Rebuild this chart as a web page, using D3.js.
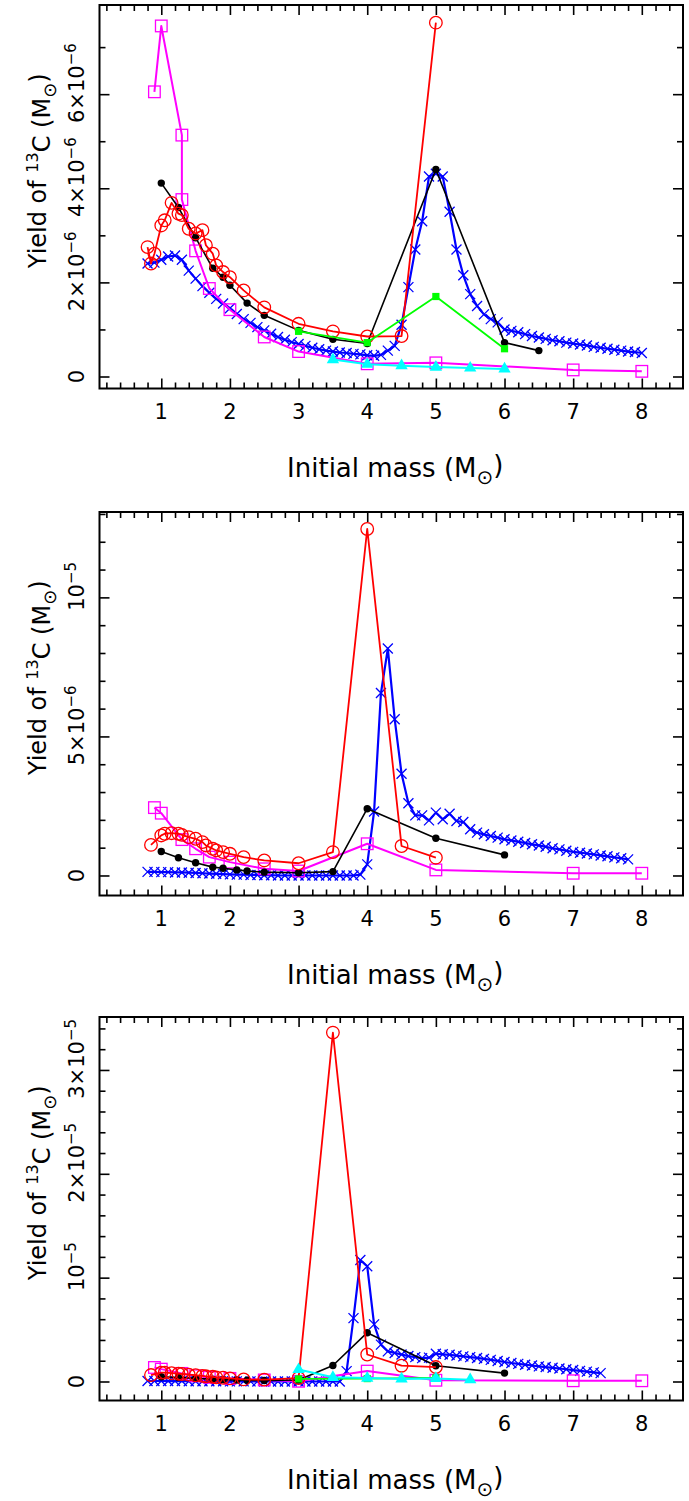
<!DOCTYPE html>
<html>
<head>
<meta charset="utf-8">
<script src="https://cdn.jsdelivr.net/npm/d3@7"></script>
<style>
body { margin: 0; background: #fff; }
svg text { font-family: "DejaVu Sans", sans-serif; fill: #000; }
</style>
</head>
<body>
<div id="chart"></div>
<script>
// yields are in units of 1e-6 Msun
const xTicks = [1, 2, 3, 4, 5, 6, 7, 8]

// masses of the dense (blue) grid, shared by the three panels
const blueMass = [0.8, 0.9, 1.0, 1.1, 1.2, 1.3, 1.4, 1.5, 1.6, 1.7, 1.8, 1.9, 2.0, 2.1, 2.2, 2.3, 2.4, 2.5, 2.6, 2.7,
	2.8, 2.9, 3.0, 3.1, 3.2, 3.3, 3.4, 3.5, 3.6, 3.7, 3.8, 3.9, 4.0, 4.1, 4.2, 4.3, 4.4, 4.5, 4.6, 4.7,
	4.8, 4.9, 5.0, 5.1, 5.2, 5.3, 5.4, 5.5, 5.6, 5.7, 5.8, 5.9, 6.0, 6.1, 6.2, 6.3, 6.4, 6.5, 6.6, 6.7,
	6.8, 6.9, 7.0, 7.1, 7.2, 7.3, 7.4, 7.5, 7.6, 7.7, 7.8, 7.9, 8.0]

// top panel
const topYTicks = [0, 2, 4, 6]
const topYLabels = [['0', ''], ['2×10', '−6'], ['4×10', '−6'], ['6×10', '−6']]
const topBlueYield = [2.40, 2.42, 2.48, 2.55, 2.57, 2.48, 2.25, 2.08, 1.92, 1.78, 1.65, 1.55, 1.45, 1.33, 1.22, 1.14, 1.05, 0.98, 0.91, 0.84,
	0.78, 0.73, 0.69, 0.65, 0.61, 0.58, 0.55, 0.53, 0.51, 0.50, 0.48, 0.47, 0.45, 0.44, 0.46, 0.55, 0.65, 1.10, 1.90, 2.70,
	3.30, 4.25, 4.31, 4.25, 3.50, 2.70, 2.15, 1.75, 1.50, 1.32, 1.22, 1.15, 1.00, 0.97, 0.94, 0.90, 0.86, 0.83, 0.80, 0.77,
	0.75, 0.72, 0.70, 0.68, 0.66, 0.63, 0.61, 0.59, 0.57, 0.55, 0.53, 0.52, 0.50]
const topBlackMass = [1.0, 1.25, 1.5, 1.75, 1.9, 2.0, 2.25, 2.5, 3.0, 3.5, 4.0, 5.0, 6.0, 6.5]
const topBlackYield = [4.11, 3.59, 2.95, 2.30, 2.11, 1.94, 1.56, 1.30, 0.98, 0.79, 0.70, 4.40, 0.72, 0.55]
const topRedMass = [0.8, 0.85, 0.9, 1.0, 1.05, 1.15, 1.25, 1.3, 1.4, 1.5, 1.6, 1.65, 1.75, 1.8, 1.9, 2.0, 2.2, 2.5, 3.0, 3.5, 4.0, 4.5, 5.0]
const topRedYield = [2.75, 2.40, 2.61, 3.21, 3.32, 3.69, 3.46, 3.43, 3.14, 3.04, 3.11, 2.79, 2.61, 2.36, 2.22, 2.11, 1.83, 1.47, 1.12, 0.96, 0.85, 0.86, 7.52]
const topMagentaMass = [0.9, 1.0, 1.3, 1.3, 1.5, 1.7, 2.0, 2.5, 3.0, 4.0, 5.0, 7.0, 8.0]
const topMagentaYield = [6.05, 7.45, 5.13, 3.76, 2.67, 1.87, 1.42, 0.84, 0.53, 0.27, 0.29, 0.14, 0.11]
const topGreenMass = [3.0, 4.0, 5.0, 6.0]
const topGreenYield = [0.96, 0.72, 1.70, 0.59]
const topCyanMass = [3.5, 4.0, 4.5, 5.0, 5.5, 6.0]
const topCyanYield = [0.36, 0.26, 0.23, 0.20, 0.18, 0.16]

// middle panel
const midYTicks = [0, 5, 10]
const midYLabels = [['0', ''], ['5×10', '−6'], ['10', '−5']]
const midBlueYield = [0.13, 0.13, 0.12, 0.12, 0.11, 0.11, 0.10, 0.09, 0.08, 0.07, 0.06, 0.05, 0.04, 0.03, 0.03, 0.02, 0.02, 0.01, 0.01, 0.00,
	0.00, 0.00, 0.00, 0.00, 0.00, 0.00, 0.00, 0.00, 0.00, 0.00, 0.00, 0.03, 0.40, 2.30, 6.56, 8.16, 5.62, 3.66, 2.60, 2.16,
	2.16, 1.98, 2.26, 2.02, 2.22, 1.96, 1.92, 1.66, 1.54, 1.48, 1.42, 1.36, 1.30, 1.26, 1.21, 1.17, 1.12, 1.08, 1.03, 0.98,
	0.94, 0.89, 0.85, 0.82, 0.79, 0.76, 0.72, 0.69, 0.65, 0.62, 0.58]
const midBlackMass = [1.0, 1.25, 1.5, 1.75, 1.9, 2.1, 2.25, 2.5, 3.0, 3.5, 4.0, 5.0, 6.0]
const midBlackYield = [0.86, 0.64, 0.46, 0.30, 0.26, 0.20, 0.16, 0.12, 0.10, 0.14, 2.40, 1.34, 0.74]
const midRedMass = [0.85, 1.0, 1.05, 1.15, 1.25, 1.3, 1.4, 1.5, 1.6, 1.65, 1.75, 1.8, 1.9, 2.0, 2.2, 2.5, 3.0, 3.5, 4.0, 4.5, 5.0]
const midRedYield = [1.10, 1.44, 1.50, 1.52, 1.50, 1.46, 1.38, 1.32, 1.20, 1.08, 0.96, 0.90, 0.84, 0.78, 0.66, 0.54, 0.44, 0.84, 12.46, 1.06, 0.64]
const midMagentaMass = [0.9, 1.0, 1.3, 1.5, 1.7, 2.0, 2.5, 3.0, 4.0, 5.0, 7.0, 8.0]
const midMagentaYield = [2.44, 2.24, 1.29, 0.96, 0.66, 0.48, 0.24, 0.16, 1.14, 0.20, 0.08, 0.08]

// bottom panel
const botYTicks = [0, 10, 20, 30]
const botYLabels = [['0', ''], ['10', '−5'], ['2×10', '−5'], ['3×10', '−5']]
const botBlueYield = [0.05, 0.05, 0.05, 0.04, 0.04, 0.04, 0.03, 0.03, 0.03, 0.02, 0.02, 0.02, 0.01, 0.01, 0.01, 0.01, 0.00, 0.00, 0.00, 0.00,
	0.00, 0.00, 0.00, 0.00, 0.00, 0.00, 0.00, 0.00, 0.00, 1.00, 6.10, 11.70, 11.10, 5.50, 3.55, 2.90, 2.75, 2.60, 2.45, 2.35,
	2.25, 2.30, 2.67, 2.62, 2.57, 2.50, 2.42, 2.35, 2.27, 2.18, 2.08, 1.98, 1.88, 1.78, 1.70, 1.62, 1.54, 1.46, 1.39, 1.32,
	1.25, 1.18, 1.10, 1.02, 0.95, 0.88, 0.81]
const botBlackMass = [1.0, 1.25, 1.5, 1.75, 1.9, 2.1, 2.25, 2.5, 3.0, 3.5, 4.0, 5.0, 6.0]
const botBlackYield = [0.45, 0.38, 0.30, 0.22, 0.18, 0.15, 0.12, 0.10, 0.15, 1.54, 4.70, 1.51, 0.81]
const botRedMass = [0.85, 1.0, 1.05, 1.15, 1.25, 1.3, 1.4, 1.5, 1.6, 1.65, 1.75, 1.8, 1.9, 2.0, 2.2, 2.5, 3.0, 3.5, 4.0, 4.5, 5.0]
const botRedYield = [0.62, 0.85, 0.85, 0.80, 0.75, 0.72, 0.66, 0.60, 0.54, 0.50, 0.45, 0.40, 0.36, 0.30, 0.20, 0.18, 0.33, 33.6, 2.60, 1.52, 1.39]
const botMagentaMass = [0.9, 1.0, 1.3, 1.5, 1.7, 2.0, 2.5, 3.0, 4.0, 5.0, 7.0, 8.0]
const botMagentaYield = [1.35, 1.19, 0.78, 0.55, 0.40, 0.30, 0.15, 0.02, 1.00, 0.12, 0.07, 0.07]
const botGreenMass = [3.0, 4.0, 5.0]
const botGreenYield = [0.25, 0.28, 0.35]
const botCyanMass = [3.0, 3.5, 4.0, 4.5, 5.0, 5.5]
const botCyanYield = [1.15, 0.40, 0.33, 0.25, 0.30, 0.18]

// layout
const width = 689
const height = 1501
const frameLeft = 99.5
const frameRight = 683
const panelHeight = 383.5

const series = (mass, yields, color, marker, lineWidth) => ({ mass, yields, color, marker, lineWidth })

const panels = [
	{
		top: 5, yDomain: [-0.255, 7.895], yTicks: topYTicks, yLabels: topYLabels, minorStep: 1,
		series: [
			series(blueMass, topBlueYield, '#0000ff', 'cross', 2.2),
			series(topMagentaMass, topMagentaYield, '#ff00ff', 'square', 2),
			series(topBlackMass, topBlackYield, '#000000', 'dot', 1.6),
			series(topRedMass, topRedYield, '#ff0000', 'circle', 1.8),
			series(topGreenMass, topGreenYield, '#00ff00', 'fsquare', 1.8),
			series(topCyanMass, topCyanYield, '#00ffff', 'triangle', 2)
		]
	},
	{
		top: 512, yDomain: [-0.72, 13.07], yTicks: midYTicks, yLabels: midYLabels, minorStep: 1,
		series: [
			series(blueMass, midBlueYield, '#0000ff', 'cross', 2.2),
			series(midMagentaMass, midMagentaYield, '#ff00ff', 'square', 2),
			series(midBlackMass, midBlackYield, '#000000', 'dot', 1.6),
			series(midRedMass, midRedYield, '#ff0000', 'circle', 1.8)
		]
	},
	{
		top: 1017, yDomain: [-1.83, 35.1], yTicks: botYTicks, yLabels: botYLabels, minorStep: 2,
		series: [
			series(blueMass, botBlueYield, '#0000ff', 'cross', 2.2),
			series(botMagentaMass, botMagentaYield, '#ff00ff', 'square', 2),
			series(botBlackMass, botBlackYield, '#000000', 'dot', 1.6),
			series(botRedMass, botRedYield, '#ff0000', 'circle', 1.8),
			series(botGreenMass, botGreenYield, '#00ff00', 'fsquare', 1.8),
			series(botCyanMass, botCyanYield, '#00ffff', 'triangle', 2)
		]
	}
]

const svg = d3.select('#chart')
	.append('svg')
	.attr('width', width)
	.attr('height', height)

const x = d3.scaleLinear().domain([0.1, 8.6]).range([0, frameRight - frameLeft])
const minorX = d3.range(0.2, 8.6, 0.2).filter(v => Math.abs(v - Math.round(v)) > 0.01)
const triangle = d3.symbol(d3.symbolTriangle).size(66)()

panels.forEach(panel => {
	const g = svg.append('g')
		.attr('transform', `translate(${frameLeft},${panel.top})`)
	const w = frameRight - frameLeft
	const y = d3.scaleLinear().domain(panel.yDomain).range([panelHeight, 0])
	const minorY = d3.range(0, panel.yDomain[1], panel.minorStep).filter(v => !panel.yTicks.includes(v))

	// ticks, all pointing inwards
	const axes = [
		[d3.axisBottom(x), `translate(0,${panelHeight})`, xTicks, minorX],
		[d3.axisTop(x), 'translate(0,0)', xTicks, minorX],
		[d3.axisLeft(y), 'translate(0,0)', panel.yTicks, minorY],
		[d3.axisRight(y), `translate(${w},0)`, panel.yTicks, minorY]
	]
	axes.forEach(([axis, t, major, minor]) => {
		g.append('g').attr('transform', t)
			.call(axis.tickValues(major).tickSize(-10).tickFormat(''))
			.call(a => a.select('.domain').remove())
			.selectAll('line').attr('stroke-width', 1.6)
		g.append('g').attr('transform', t)
			.call(axis.tickValues(minor).tickSize(-6).tickFormat(''))
			.call(a => a.select('.domain').remove())
			.selectAll('line').attr('stroke-width', 1.6)
	})

	g.append('rect')
		.attr('width', w)
		.attr('height', panelHeight)
		.attr('fill', 'none')
		.attr('stroke', '#000')
		.attr('stroke-width', 2)

	// x tick labels
	g.selectAll('text.xtick')
		.data(xTicks)
		.enter()
		.append('text')
		.attr('class', 'xtick')
		.attr('x', d => x(d))
		.attr('y', panelHeight + 30)
		.attr('text-anchor', 'middle')
		.style('font-size', '21px')
		.text(d => d)

	// y tick labels, rotated, mantissa centred on the tick
	panel.yTicks.forEach((v, i) => {
		const [base, exp] = panel.yLabels[i]
		const lab = g.append('g')
			.attr('transform', `translate(-16,${y(v)}) rotate(-90)`)
			.append('text')
			.style('font-size', '21px')
		const b = lab.append('tspan').text(base)
		if (exp) {
			lab.append('tspan')
				.attr('dy', '-0.5em')
				.style('font-size', '15px')
				.text(exp)
		}
		lab.attr('x', -b.node().getComputedTextLength() / 2)
	})

	// y title
	const yt = g.append('g')
		.attr('transform', `translate(-54,${panelHeight / 2 - 26}) rotate(-90)`)
		.append('text')
		.attr('text-anchor', 'middle')
		.style('font-size', '24px')
	yt.append('tspan').text('Yield of ')
	yt.append('tspan').attr('dy', '-0.5em').style('font-size', '16px').text('13')
	yt.append('tspan').attr('dy', '0.5em').text('C (M')
	yt.append('tspan').attr('dy', '0.35em').style('font-size', '18px').text('⊙')
	yt.append('tspan').attr('dy', '-0.35em').text(')')

	// x title
	const xt = g.append('text')
		.attr('x', w / 2 + 4)
		.attr('y', panelHeight + 88)
		.attr('text-anchor', 'middle')
		.style('font-size', '26px')
	xt.append('tspan').text('Initial mass (M')
	xt.append('tspan').attr('dy', '0.35em').style('font-size', '20px').text('⊙')
	xt.append('tspan').attr('dy', '-0.35em').text(')')

	// data
	const plot = g.append('g')
	panel.series.forEach(s => {
		const pts = s.mass.map((m, i) => [m, s.yields[i]]).filter(p => p[1] !== undefined)
		plot.append('path')
			.datum(pts)
			.attr('fill', 'none')
			.attr('stroke', s.color)
			.attr('stroke-width', s.lineWidth)
			.attr('stroke-linejoin', 'round')
			.attr('d', d3.line().x(d => x(d[0])).y(d => y(d[1])))

		const marks = plot.selectAll(null)
			.data(pts)
			.enter()
			.append('g')
			.attr('transform', d => `translate(${x(d[0])},${y(d[1])})`)

		if (s.marker === 'cross') {
			marks.append('path').attr('d', 'M-5,-5L5,5M-5,5L5,-5')
				.attr('stroke', s.color).attr('stroke-width', 1.3)
		} else if (s.marker === 'circle') {
			marks.append('circle').attr('r', 6.3)
				.attr('fill', 'none').attr('stroke', s.color).attr('stroke-width', 1.3)
		} else if (s.marker === 'square') {
			marks.append('rect').attr('x', -5.8).attr('y', -5.8).attr('width', 11.6).attr('height', 11.6)
				.attr('fill', 'none').attr('stroke', s.color).attr('stroke-width', 1.3)
		} else if (s.marker === 'dot') {
			marks.append('circle').attr('r', 3.7).attr('fill', s.color)
		} else if (s.marker === 'fsquare') {
			marks.append('rect').attr('x', -3.6).attr('y', -3.6).attr('width', 7.2).attr('height', 7.2)
				.attr('fill', s.color)
		} else if (s.marker === 'triangle') {
			marks.append('path').attr('d', triangle).attr('fill', s.color)
		}
	})
})
</script>
</body>
</html>
